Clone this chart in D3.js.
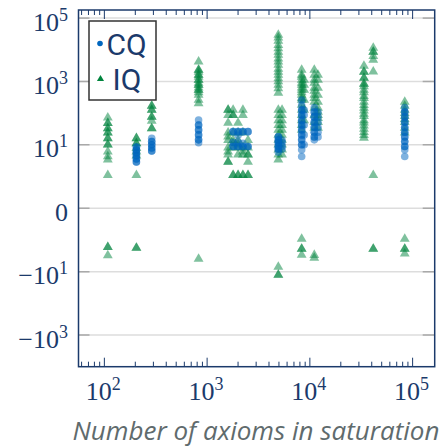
<!DOCTYPE html>
<html>
<head>
<script src="https://d3js.org/d3.v7.min.js"></script>
<style>
body { margin: 0; background: white; }
</style>
</head>
<body>
<div id="chart"></div>
<script>
// number of axioms in saturation (x position of each column)
const sizes = [108, 205, 289, 826, 1600, 1790, 2000, 2230, 2500, 4930, 5360, 8320, 8800, 11040, 12000, 33600, 41400, 83800];

// CQ values per column (same order as sizes)
const cqValues = [
  [],
  [8.5, 8.5, 6.8, 6.8, 5.5, 5.5, 4.4, 4.4, 3.5, 3.5, 2.8, 2.8],
  [16, 12.7, 12.7, 10, 10, 7.9, 7.9, 6.3, 6.3],
  [61, 42, 42, 29.5, 29.5, 20.5, 20.5, 14.3, 14.3, 11.5],
  [],
  [26, 26, 8.8, 8.8, 12],
  [26, 26, 20, 12, 8.8, 8.8],
  [26, 26, 8.8, 8.8, 11],
  [26, 26, 8.8, 8.8],
  [18, 18, 14, 14, 11.5, 11.5, 9, 9, 7.3, 7.3, 5.8],
  [14, 11.5, 9, 7.3],
  [260, 181, 126, 126, 87, 87, 59, 59, 42, 42, 29.5, 29.5, 20.5, 20.5, 14.3, 14.3, 10, 10, 6.9, 4.2],
  [126, 87, 42, 20.5, 10],
  [150, 109, 109, 76, 76, 52, 52, 36, 36, 25, 25, 17.7, 17.7, 14.3],
  [109, 76, 52, 36, 25, 17.7],
  [],
  [],
  [150, 109, 109, 76, 76, 52, 52, 36, 36, 25, 25, 17.7, 17.7, 12.7, 12.7, 8.8, 8.8, 6.9, 4.2]
];

// IQ values per column
const iqValues = [
  [72, 48, 48, 33, 33, 24, 24, 16, 16, 10, 10, 6, 4.2, 3.3, 1, -1.6, -1.6, -3.0],
  [16, 16, 11, 11, 7.7, 6, 4.5, 1, -1.7, -1.7],
  [169, 169, 126, 126, 76, 76, 57, 33, 33],
  [4217, 2306, 2306, 2000, 1603, 1603, 1400, 1114, 1114, 900, 776, 776, 640, 537, 537, 450, 375, 260, 204, -3.9],
  [126, 126, 87, 49, 24, 18, 14, 8, 6, 4.8, 2.8, 2.8],
  [126, 87, 87, 24, 14, 11, 8, 1, 1],
  [49, 24, 14, 10, 8, 4.8, 1, 1],
  [126, 87, 24, 8, 6, 4.8, 1, 1],
  [14, 8, 4.8, 4.8, 2.8, 1, 1],
  [29300, 24000, 19000, 14100, 11000, 8500, 6840, 5200, 4200, 3310, 2500, 2000, 1600, 1250, 1000, 776, 600, 433,
   126, 87, 59, 42, 29.5, 20.5, 14.3, 10, 6.9, 4.8, 3.3, -7, -12.6, -12.6],
  [126, 87, 59, 42, 29.5, 20.5, 14.3, 10, 6.9, 4.8],
  [2306, 1603, 1400, 1114, 900, 776, 640, 537, 450, 375, 300, 260, 181, 126, 87, 59, 42, 29.5, -0.83, -1.82, -1.82, -2.87],
  [1114, 776, 537, 260, 126, 59],
  [2306, 1603, 1114, 900, 624, 500, 375, 300, 225, 146, 87, 52, 34, -3.6, -2.9],
  [1603, 1114, 624, 375, 225, 146, 110, 87, 70, 52, 34],
  [3083, 1995, 1995, 1290, 1290, 832, 832, 700, 537, 450, 347, 300, 225, 180, 146, 120, 94, 80, 59, 50, 40, 32, 25, 20, 16.6],
  [11400, 8510, 8510, 6310, 4780, 2040, 1, -1.82, -1.82],
  [225, 169, 126, 100, 81, 65, 52, 34, 24, -0.83, -1.82, -1.82, -2.6]
];

const xMajorTicks = [1e2, 1e3, 1e4, 1e5];
const yTicks = [1e5, 1e3, 10, 0, -10, -1e3];

const width = 444;
const height = 447;
const marginLeft = 78.5;
const marginRight = 9.3;
const marginTop = 10;
const marginBottom = 80.3;

const navy = "#1b3a6b";
const blue = "#0066bf";
const green = "#00843d";

const x = d3.scaleLog()
  .domain([56, 164000])
  .range([marginLeft, width - marginRight]);

const y = d3.scaleSymlog()
  .constant(0.1)
  .domain([-1e4, 1.8e5])
  .range([height - marginBottom, marginTop]);

const svg = d3.create("svg")
  .attr("width", width)
  .attr("height", height)
  .attr("viewBox", [0, 0, width, height]);

// gridlines at major y ticks
svg.append("g")
  .selectAll("line")
  .data(yTicks)
  .join("line")
    .attr("x1", marginLeft).attr("x2", width - marginRight)
    .attr("y1", d => y(d)).attr("y2", d => y(d))
    .attr("stroke", "#dddddd")
    .attr("stroke-width", 1.5);

// short darker ticks on both sides
svg.append("g")
  .selectAll("line")
  .data(yTicks)
  .join("line")
    .attr("x1", marginLeft).attr("x2", marginLeft + 11)
    .attr("y1", d => y(d)).attr("y2", d => y(d))
    .attr("stroke", "#a9a9a9")
    .attr("stroke-width", 1.5);
svg.append("g")
  .selectAll("line")
  .data(yTicks)
  .join("line")
    .attr("x1", width - marginRight - 12).attr("x2", width - marginRight)
    .attr("y1", d => y(d)).attr("y2", d => y(d))
    .attr("stroke", "#a9a9a9")
    .attr("stroke-width", 1.5);

// x ticks (major + minor), pointing inward on top and bottom
const xAllTicks = x.ticks();
const isMajor = d => Math.abs(Math.log10(d) - Math.round(Math.log10(d))) < 1e-9;
const bottom = height - marginBottom;
svg.append("g")
  .selectAll("line")
  .data(xAllTicks)
  .join("line")
    .attr("x1", d => x(d)).attr("x2", d => x(d))
    .attr("y1", bottom).attr("y2", d => bottom - (isMajor(d) ? 9 : 5))
    .attr("stroke", navy)
    .attr("stroke-width", 1);
svg.append("g")
  .selectAll("line")
  .data(xAllTicks)
  .join("line")
    .attr("x1", d => x(d)).attr("x2", d => x(d))
    .attr("y1", marginTop).attr("y2", d => marginTop + (isMajor(d) ? 9 : 5))
    .attr("stroke", navy)
    .attr("stroke-width", 1);

// points
const iqPoints = [];
const cqPoints = [];
sizes.forEach((s, i) => {
  iqValues[i].forEach(v => iqPoints.push({x: s, y: v}));
  cqValues[i].forEach(v => cqPoints.push({x: s, y: v}));
});

const tri = d3.symbol().type(d3.symbolTriangle).size(42);

svg.append("g")
  .selectAll("path")
  .data(iqPoints)
  .join("path")
    .attr("d", tri)
    .attr("transform", d => `translate(${x(d.x)},${y(d.y)})`)
    .attr("fill", green)
    .attr("fill-opacity", 0.5);

svg.append("g")
  .selectAll("circle")
  .data(cqPoints)
  .join("circle")
    .attr("cx", d => x(d.x))
    .attr("cy", d => y(d.y))
    .attr("r", 3.8)
    .attr("fill", blue)
    .attr("fill-opacity", 0.5);

// frame
svg.append("rect")
  .attr("x", marginLeft).attr("y", marginTop)
  .attr("width", width - marginLeft - marginRight)
  .attr("height", height - marginTop - marginBottom)
  .attr("fill", "none")
  .attr("stroke", navy)
  .attr("stroke-width", 1.5);

// y tick labels
const supFor = d => {
  if (d === 0) return {base: "0", sup: ""};
  const e = Math.round(Math.log10(Math.abs(d)));
  return {base: (d < 0 ? "\u2212" : "") + "10", sup: String(e)};
};

const yLab = svg.append("g")
  .attr("font-family", "'Liberation Serif', serif")
  .attr("font-size", 26)
  .attr("fill", navy)
  .attr("text-anchor", "end");
yTicks.forEach(d => {
  const p = supFor(d);
  const t = yLab.append("text")
    .attr("x", 68)
    .attr("y", y(d) + 12.5);
  t.append("tspan").text(p.base);
  if (p.sup) t.append("tspan").attr("dy", -10).attr("font-size", 18).text(p.sup);
});

// x tick labels
const xLab = svg.append("g")
  .attr("font-family", "'Liberation Serif', serif")
  .attr("font-size", 26)
  .attr("fill", navy)
  .attr("text-anchor", "middle");
xMajorTicks.forEach(d => {
  const p = supFor(d);
  const t = xLab.append("text")
    .attr("x", x(d) - 1)
    .attr("y", 400);
  t.append("tspan").text(p.base);
  t.append("tspan").attr("dy", -10).attr("font-size", 18).text(p.sup);
});

// axis title
svg.append("text")
  .attr("x", 256)
  .attr("y", 440)
  .attr("text-anchor", "middle")
  .attr("font-family", "'Open Sans', sans-serif")
  .attr("font-style", "italic")
  .attr("font-size", 26)
  .attr("fill", "#5f6b6d")
  .text("Number of axioms in saturation");

// legend
const legend = svg.append("g");
legend.append("rect")
  .attr("x", 89).attr("y", 21)
  .attr("width", 67).attr("height", 79)
  .attr("fill", "white")
  .attr("stroke", "#333333")
  .attr("stroke-width", 1.5);
legend.append("circle")
  .attr("cx", 100).attr("cy", 43.5).attr("r", 2.8)
  .attr("fill", blue);
legend.append("path")
  .attr("d", d3.symbol().type(d3.symbolTriangle).size(22)())
  .attr("transform", "translate(100.5,79)")
  .attr("fill", green);
legend.append("text")
  .attr("x", 106.5).attr("y", 55)
  .attr("font-family", "Roboto, sans-serif")
  .attr("font-size", 30)
  .attr("fill", navy)
  .text("CQ");
legend.append("text")
  .attr("x", 112.5).attr("y", 90)
  .attr("font-family", "Roboto, sans-serif")
  .attr("font-size", 30)
  .attr("fill", navy)
  .text("IQ");

document.getElementById("chart").appendChild(svg.node());
</script>
</body>
</html>
